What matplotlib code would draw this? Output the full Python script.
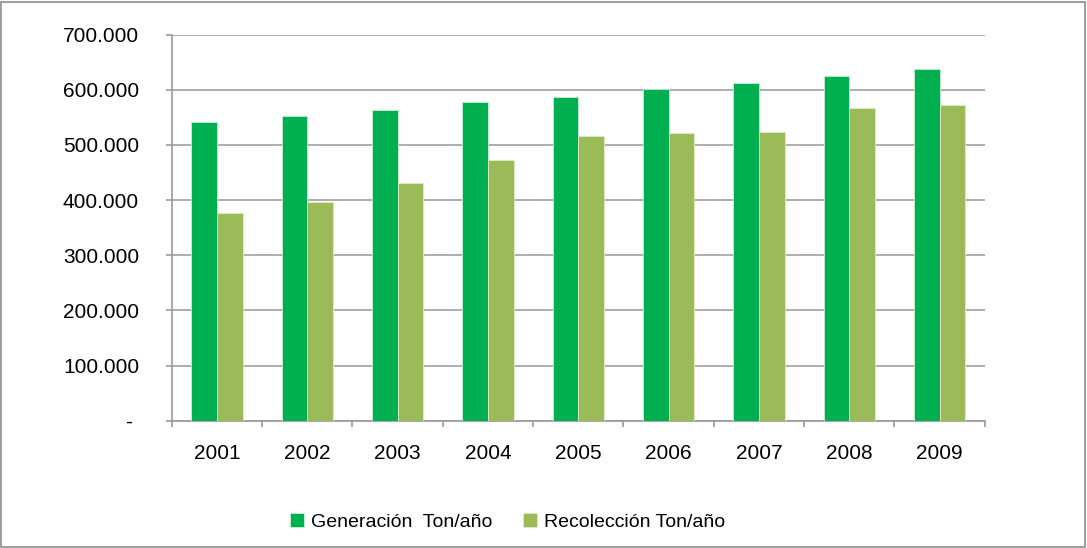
import matplotlib
matplotlib.use("Agg")
import matplotlib.pyplot as plt
from matplotlib.patches import Rectangle
import numpy as np

years = ["2001", "2002", "2003", "2004", "2005", "2006", "2007", "2008", "2009"]
generacion = [542000, 553000, 563000, 577000, 587000, 601000, 612000, 625000, 638000]
recoleccion = [377000, 396000, 431000, 473000, 516000, 521000, 524000, 566000, 572000]
ytick_vals = [0, 100000, 200000, 300000, 400000, 500000, 600000, 700000]
ytick_labels = ["- ", "100.000", "200.000", "300.000", "400.000", "500.000", "600.000", "700.000"]
series_names = ["Generación  Ton/año", "Recolección Ton/año"]

plt.rcParams['font.family'] = ['Liberation Sans', 'DejaVu Sans']

fig = plt.figure(figsize=(10.87, 5.48), dpi=100)
ax = fig.add_axes([0.158, 0.232, 0.748, 0.705])

x = np.arange(len(years))
w = 0.285
gcol = "#00B050"
rcol = "#9BBB59"
ax.bar(x - w/2, generacion, w, color=gcol, edgecolor="#c8f0d4", linewidth=0.6, label=series_names[0], zorder=3)
ax.bar(x + w/2, recoleccion, w, color=rcol, edgecolor="#e2ecc8", linewidth=0.6, label=series_names[1], zorder=3)

ax.set_xlim(-0.5, len(years) - 0.5)
ax.set_ylim(0, 700000)
ax.set_yticks(ytick_vals)
ax.set_yticklabels(ytick_labels)
ax.set_xticks(x)
ax.set_xticklabels(years)
ax.set_xticks(np.arange(-0.5, len(years), 1.0), minor=True)

gray = "#999999"
ax.grid(axis="y", color="#A0A0A0", linewidth=1.2, zorder=0)
for s in ["top", "right"]:
    ax.spines[s].set_visible(False)
for s in ["left", "bottom"]:
    ax.spines[s].set_color(gray)
    ax.spines[s].set_linewidth(1.2)

ax.tick_params(axis="y", length=4.5, width=1.2, color=gray, pad=19, labelsize=15)
ax.tick_params(axis="x", which="major", length=0, pad=17, labelsize=15)
ax.tick_params(axis="x", which="minor", length=4, width=1.2, color=gray)

fig.legend(loc="center", bbox_to_anchor=(0.467, 0.047), ncol=2, frameon=False,
           fontsize=14, handlelength=0.7, handleheight=0.7, handletextpad=0.35,
           columnspacing=1.6)

fig.patches.append(Rectangle((0.001, 0.001), 0.997, 0.996, transform=fig.transFigure,
                             fill=False, edgecolor="#8c8c8c", linewidth=1.2))

fig.savefig("out.png", dpi=100)
